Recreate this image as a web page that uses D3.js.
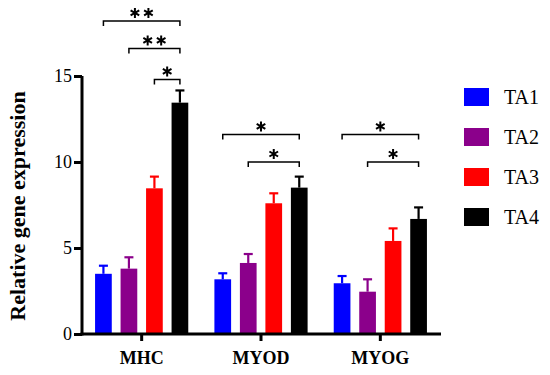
<!DOCTYPE html>
<html>
<head>
<meta charset="utf-8">
<script src="https://cdn.jsdelivr.net/npm/d3@7"></script>
<style>
  body { margin: 0; background: #fff; }
  svg { display: block; font-family: "Liberation Serif", "Times New Roman", serif; }
</style>
</head>
<body>
<div id="chart"></div>
<script>
var genes = ["MHC", "MYOD", "MYOG"];
var groups = ["TA1", "TA2", "TA3", "TA4"];
var colors = ["#0000ff", "#8b008b", "#ff0000", "#000000"];
// mean per gene, one array per group
var ta1 = [3.5, 3.18, 2.95];
var ta2 = [3.8, 4.13, 2.46];
var ta3 = [8.47, 7.6, 5.41];
var ta4 = [13.45, 8.51, 6.69];
// upper error (SD) per gene
var ta1Err = [0.47, 0.35, 0.42];
var ta2Err = [0.66, 0.52, 0.72];
var ta3Err = [0.68, 0.58, 0.73];
var ta4Err = [0.71, 0.64, 0.67];
var yTicks = [0, 5, 10, 15];
// significance brackets: gene, from group, to group, height (data units), label
var sigGene = ["MHC", "MHC", "MHC", "MYOD", "MYOD", "MYOG", "MYOG"];
var sigFrom = ["TA1", "TA2", "TA3", "TA1", "TA2", "TA1", "TA2"];
var sigTo = ["TA4", "TA4", "TA4", "TA4", "TA4", "TA4", "TA4"];
var sigY = [18.2, 16.6, 14.8, 11.6, 10.0, 11.6, 10.0];
var sigStars = [2, 2, 1, 1, 1, 1, 1];

var means = [ta1, ta2, ta3, ta4];
var errs = [ta1Err, ta2Err, ta3Err, ta4Err];

var width = 550, height = 375;
var svg = d3.select("#chart").append("svg")
  .attr("width", width)
  .attr("height", height);

var x = d3.scaleBand().domain(genes).range([82, 440]).padding(0);
var xs = d3.scaleBand().domain(groups).range([-46.6, 46.6]).paddingInner(0.345);
var y = d3.scaleLinear().domain([0, 15]).range([334, 76]);
var color = d3.scaleOrdinal().domain(groups).range(colors);

var data = [];
genes.forEach(function(g, gi) {
  groups.forEach(function(s, si) {
    data.push({gene: g, group: s, value: means[si][gi], err: errs[si][gi]});
  });
});

function cx(gene, group) {
  return x(gene) + x.bandwidth() / 2 + xs(group) + xs.bandwidth() / 2;
}

// bars
svg.selectAll(".bar")
  .data(data)
  .enter().append("rect")
  .attr("class", "bar")
  .attr("x", function(d) { return x(d.gene) + x.bandwidth() / 2 + xs(d.group); })
  .attr("width", xs.bandwidth())
  .attr("y", function(d) { return y(d.value); })
  .attr("height", function(d) { return y(0) - y(d.value); })
  .attr("fill", function(d) { return color(d.group); });

// error bars (upper only)
var eb = svg.selectAll(".err")
  .data(data)
  .enter().append("g")
  .attr("class", "err")
  .attr("stroke", function(d) { return color(d.group); })
  .attr("stroke-width", 2.2);
eb.append("line")
  .attr("x1", function(d) { return cx(d.gene, d.group); })
  .attr("x2", function(d) { return cx(d.gene, d.group); })
  .attr("y1", function(d) { return y(d.value); })
  .attr("y2", function(d) { return y(d.value + d.err); });
eb.append("line")
  .attr("x1", function(d) { return cx(d.gene, d.group) - 4.5; })
  .attr("x2", function(d) { return cx(d.gene, d.group) + 4.5; })
  .attr("y1", function(d) { return y(d.value + d.err); })
  .attr("y2", function(d) { return y(d.value + d.err); });

// axes
var yAxis = svg.append("g")
  .attr("transform", "translate(82,0)")
  .call(d3.axisLeft(y).tickValues(yTicks).tickSize(8).tickPadding(2));
var xAxis = svg.append("g")
  .attr("transform", "translate(0,334)")
  .call(d3.axisBottom(x).tickSize(7).tickPadding(10));
[yAxis, xAxis].forEach(function(a) {
  a.attr("font-family", "Liberation Serif");
  a.select(".domain").attr("stroke-width", 3).attr("stroke", "#000");
  a.selectAll(".tick line").attr("stroke-width", 3).attr("stroke", "#000");
  a.selectAll("text").attr("fill", "#000").attr("font-family", "Liberation Serif");
});
yAxis.select(".domain").attr("d", "M0,335.5V76");
xAxis.select(".domain").attr("d", "M80.5,0H441");
yAxis.selectAll("text").attr("font-size", 18);
xAxis.selectAll("text").attr("font-size", 18).attr("font-weight", "bold");

// y label
svg.append("text")
  .attr("transform", "translate(25,206) rotate(-90)")
  .attr("text-anchor", "middle")
  .attr("font-size", 22)
  .attr("font-weight", "bold")
  .text("Relative gene expression");

// significance brackets
var star = d3.symbol().type(d3.symbolAsterisk).size(70);
sigGene.forEach(function(g, i) {
  var x1 = cx(g, sigFrom[i]), x2 = cx(g, sigTo[i]), yy = y(sigY[i]);
  svg.append("path")
    .attr("d", "M" + x1 + "," + (yy + 5) + "V" + yy + "H" + x2 + "V" + (yy + 5))
    .attr("fill", "none")
    .attr("stroke", "#000")
    .attr("stroke-width", 1.5);
  var mid = (x1 + x2) / 2;
  for (var k = 0; k < sigStars[i]; k++) {
    var sx = mid + (k - (sigStars[i] - 1) / 2) * 13.5;
    svg.append("path")
      .attr("d", star)
      .attr("transform", "translate(" + sx + "," + (yy - 8) + ")")
      .attr("fill", "none")
      .attr("stroke", "#000")
      .attr("stroke-width", 2);
  }
});

// legend
var legend = svg.selectAll(".legend")
  .data(groups)
  .enter().append("g")
  .attr("class", "legend")
  .attr("transform", function(d, i) { return "translate(464," + (88 + i * 40) + ")"; });
legend.append("rect")
  .attr("width", 25)
  .attr("height", 18)
  .attr("fill", function(d) { return color(d); });
legend.append("text")
  .attr("x", 40)
  .attr("y", 16)
  .attr("font-size", 20)
  .attr("font-family", "Liberation Serif")
  .text(function(d) { return d; });
</script>
</body>
</html>
